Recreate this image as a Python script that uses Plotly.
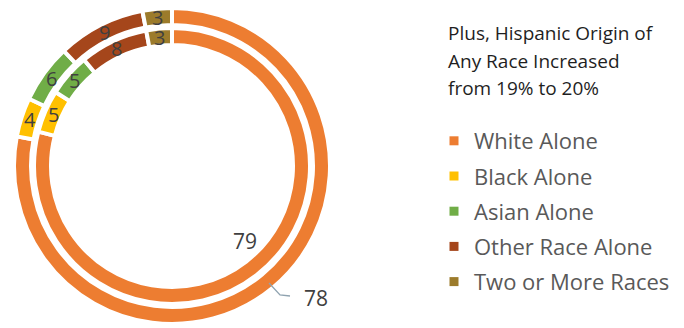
import math
import plotly.graph_objects as go

categories = ["White Alone", "Black Alone", "Asian Alone", "Other Race Alone", "Two or More Races"]
outer_values = [78, 4, 6, 9, 3]   # outer ring
inner_values = [79, 5, 5, 8, 3]   # inner ring
colors = ["#ED7D31", "#FFC000", "#70AD47", "#A5461B", "#9C7B2B"]
title_lines = ["Plus, Hispanic Origin of", "Any Race Increased", "from 19% to 20%"]

W, H = 684, 328
FONT = "Open Sans, Noto Sans, sans-serif"
LABEL_COLOR = "#404040"

def X(px):
    return px / W

def Y(py):
    return 1 - py / H

CX, CY = 172, 166          # ring centre (px)
R_OUT, R_OUT_H = 158, 141  # outer ring radii
R_IN, R_IN_H = 138, 121    # inner ring radii

def dom(r):
    return dict(x=[X(CX - r), X(CX + r)], y=[Y(CY + r), Y(CY - r)])

fig = go.Figure()
for vals, r, rh in [(outer_values, R_OUT, R_OUT_H), (inner_values, R_IN, R_IN_H)]:
    fig.add_trace(go.Pie(
        labels=categories, values=vals, sort=False, direction="clockwise", rotation=0,
        hole=rh / r, domain=dom(r),
        marker=dict(colors=colors, line=dict(color="white", width=4)),
        textinfo="none", showlegend=False, hoverinfo="label+value",
    ))
    # data labels for the small slices, at the middle of each slice
    total = sum(vals)
    cum = 0
    rm = (r + rh) / 2
    for i, v in enumerate(vals):
        if i > 0:
            frac = (cum + v / 2) / total
            ang = math.radians(90 - 360 * frac)
            fig.add_annotation(x=X(CX + rm * math.cos(ang)), y=Y(CY - rm * math.sin(ang)),
                               xref="paper", yref="paper", xanchor="center", yanchor="middle",
                               text=str(v), showarrow=False, borderpad=0,
                               font=dict(family=FONT, size=20, color=LABEL_COLOR))
        cum += v

# legend entries
for c, col in zip(categories, colors):
    fig.add_trace(go.Scatter(x=[None], y=[None], mode="markers", name=c, legendgroup=c,
                             marker=dict(symbol="square", size=9, color=col)))

# labels for the large slices
fig.add_annotation(x=X(245), y=Y(241), xref="paper", yref="paper", xanchor="center", yanchor="middle",
                   text=str(inner_values[0]), showarrow=False,
                   font=dict(family=FONT, size=21, color=LABEL_COLOR))
fig.add_annotation(x=X(316), y=Y(298), xref="paper", yref="paper", xanchor="center", yanchor="middle",
                   text=str(outer_values[0]), showarrow=False,
                   font=dict(family=FONT, size=21, color=LABEL_COLOR))
fig.add_shape(type="path", xref="paper", yref="paper",
              path=f"M {X(269)} {Y(283)} L {X(280)} {Y(295)} L {X(290)} {Y(296)}",
              line=dict(color="#8FA3B0", width=1.3))

for line, yc in zip(title_lines, [33, 61, 88]):
    fig.add_annotation(x=X(446), y=Y(yc), xref="paper", yref="paper", xanchor="left", yanchor="middle",
                       align="left", text=line, showarrow=False,
                       font=dict(family=FONT, size=19, color="#1f1f1f"))

fig.update_layout(
    width=W, height=H, margin=dict(l=0, r=0, t=0, b=0),
    paper_bgcolor="white", plot_bgcolor="white",
    xaxis=dict(visible=False), yaxis=dict(visible=False),
    legend=dict(x=X(434), y=Y(120), xanchor="left", yanchor="top",
                font=dict(family=FONT, size=22, color="#595959"),
                tracegroupgap=3.6, itemwidth=30, bgcolor="rgba(0,0,0,0)"),
)
fig.write_html("out.html", config={"displayModeBar": False},
               post_script="document.body.style.margin='0';")
